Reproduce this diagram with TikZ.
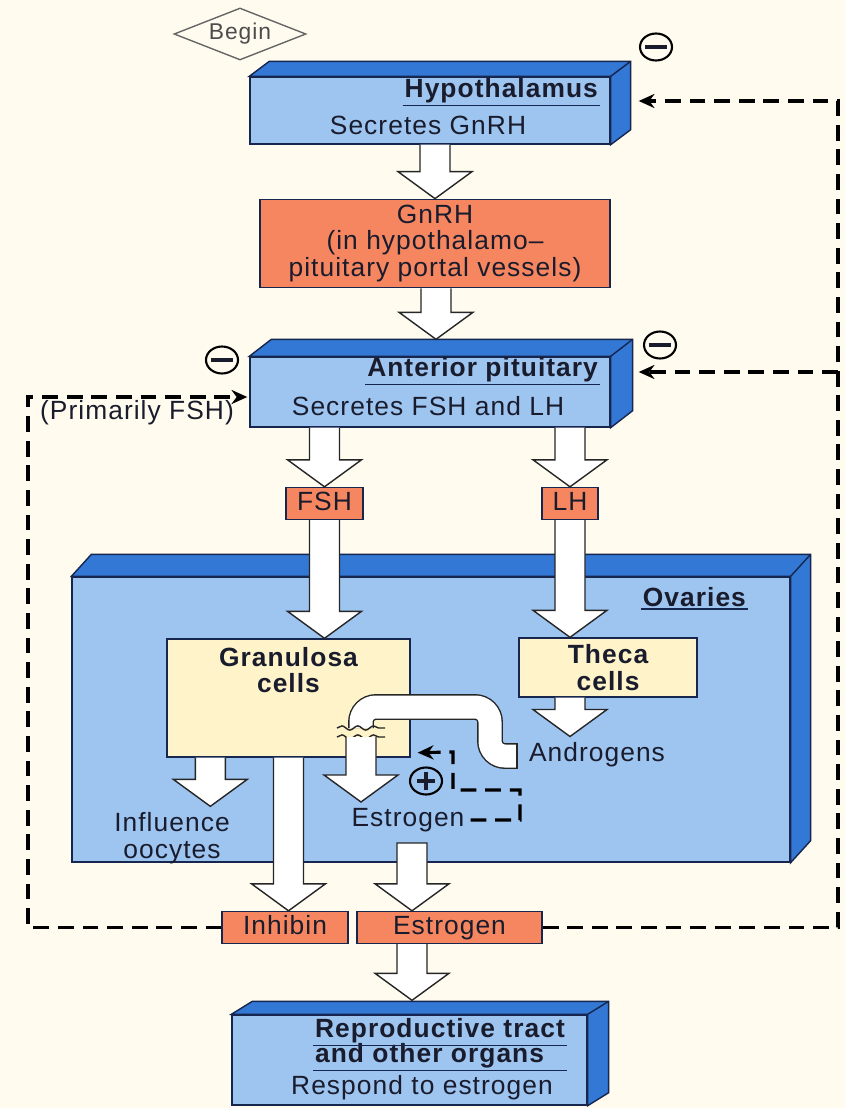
\documentclass[tikz,border=0pt]{standalone}
\usepackage{fontspec}
\setmainfont{Liberation Sans}[LetterSpace=4]
\usetikzlibrary{arrows.meta,positioning,shapes.geometric,calc,decorations.pathmorphing}

\definecolor{paper}{RGB}{255,252,239}
\definecolor{frontblue}{RGB}{158,196,240}
\definecolor{sideblue}{RGB}{50,120,212}
\definecolor{edgeblue}{RGB}{22,38,78}
\definecolor{hormone}{RGB}{246,134,96}
\definecolor{cellfill}{RGB}{255,243,201}
\definecolor{ink}{RGB}{25,28,45}

% top and right faces of a 3D slab (node, depth dx, depth dy)
\newcommand{\slabsides}[3]{%
  \filldraw[slabside] (#1.north west) -- ++(#2,#3) -- ($(#1.north east)+(#2,#3)$)
    -- ($(#1.south east)+(#2,#3)$) -- (#1.south east) -- (#1.north east) -- cycle;
  \draw[slabside] (#1.north east) -- ++(#2,#3);
}
% hollow block arrow from a start (only its y) down to a tip
\newcommand{\hollowarrow}[3][]{%
  \draw[blockarr] let \p1=#2, \p2=#3 in
    (\x2-0.3cm,\y1) -- (\x2-0.3cm,\y2+0.54cm) -- (\x2-0.74cm,\y2+0.54cm) -- (\x2,\y2)
    -- (\x2+0.74cm,\y2+0.54cm) -- (\x2+0.3cm,\y2+0.54cm) -- (\x2+0.3cm,\y1) #1;
}

\begin{document}
\begin{tikzpicture}[
  x=0.02cm, y=-0.02cm,
  every node/.style={text=ink},
  font=\fontsize{15}{15}\selectfont,
  slab/.style={draw=edgeblue, thick, fill=frontblue, inner sep=0pt},
  slabside/.style={draw=edgeblue, thick, fill=sideblue},
  hdr/.style={font=\fontsize{15}{15}\selectfont\bfseries, inner sep=1pt},
  uline/.style={draw=edgeblue, line width=1pt},
  hormonebox/.style={draw=edgeblue, thick, fill=hormone, minimum height=0.64cm, inner sep=2pt,
                     text height=11pt, text depth=2.5pt},
  cellbox/.style={draw=edgeblue, thick, fill=cellfill, inner sep=0pt},
  blockarr/.style={draw=black!85, thick, fill=white, line join=miter},
  loopline/.style={line width=2.2pt, dash pattern=on 9pt off 5pt, -{Stealth[length=9pt,width=8pt]}},
  sign/.style={draw=black, line width=1.2pt, ellipse, minimum width=0.64cm, minimum height=0.54cm, inner sep=0pt},
  tube/.style={draw=black!85, line width=0.8pt, double=white, double distance=0.46cm, rounded corners=0.3cm}
]

\fill[paper] (0,0) rectangle (845,1108);
\useasboundingbox (0,0) rectangle (845,1108);

% === Brain ===
\node[diamond, draw=black!60, thick, aspect=2.5, minimum width=2.64cm, minimum height=1.04cm,
      inner sep=0pt, font=\fontsize{13}{13}\selectfont, text=black!70] (begin) at (240,34) {Begin};

\node[slab, minimum width=7.2cm, minimum height=1.34cm] (hyp) at (430,110.5) {};
\slabsides{hyp}{20}{-15}
\node[hdr, anchor=east] (hyphdr) at (600,91) {Hypothalamus};
\draw[uline] (hyphdr.south west) -- (hyphdr.south east);
\node (hyptxt) at (428,125) {Secretes GnRH};

\node[draw=edgeblue, thick, fill=hormone, minimum width=7cm, minimum height=1.68cm, align=center] (gnrh) at (435,243.5)
  {GnRH\\(in hypothalamo--\\pituitary portal vessels)};

\node[slab, minimum width=7.2cm, minimum height=1.4cm] (ap) at (430,392) {};
\slabsides{ap}{22}{-17}
\node[hdr, anchor=east] (aphdr) at (600,370) {Anterior pituitary};
\draw[uline] (aphdr.south west) -- (aphdr.south east);
\node (aptxt) at (428,406) {Secretes FSH and LH};
\coordinate (aptop) at ($(ap.north)+(6,-17)$);

\node[hormonebox, minimum width=1.54cm] (fsh) at (324.5,503.5) {FSH};
\node[hormonebox, minimum width=1.12cm] (lh) at (570,503.5) {LH};

\hollowarrow{(hyp.south)}{(gnrh.north)}
\hollowarrow{(gnrh.south)}{(aptop)}
\hollowarrow{(ap.south)}{(fsh.north)}
\hollowarrow{(ap.south)}{(lh.north)}

% === Ovaries ===
\node[slab, minimum width=14.36cm, minimum height=5.7cm] (ova) at (431,719.5) {};
\slabsides{ova}{20}{-22}
\node[hdr, anchor=east] (ovahdr) at (748,597) {Ovaries};
\draw[uline] (ovahdr.south west) -- (ovahdr.south east);

\node[cellbox, minimum width=4.86cm, minimum height=2.36cm] (gran) at (288.5,698) {};
\node[hdr, align=center, anchor=north] (grantxt) at (288.5,645) {Granulosa\\cells};
\node[cellbox, minimum width=3.56cm, minimum height=1.18cm, hdr, align=center] (theca) at (608,667.5) {Theca\\cells};

\node (andr) at (597,755) {Androgens};
\node[align=center] (infl) at (172,838) {Influence\\oocytes};
\node (estrtxt) at (408,820) {Estrogen};

\hollowarrow{(fsh.south)}{(fsh.south |- gran.north)}
\hollowarrow{(lh.south)}{(lh.south |- theca.north)}
\hollowarrow{(theca.south)}{(lh.south |- andr.north)}

% androgens carried into the granulosa cells
\draw[tube] (361,728) -- (361,707) -- (490,707) -- (490,756) -- (517,756);
\draw[black!85, thick] (517,743) -- (517,769);
\foreach \y in {728,737} {
  \draw[black!85, thick, decorate, decoration={snake, amplitude=1.2pt, segment length=9pt}] (337,\y) -- (385,\y);
}
\coordinate (brk) at (361,737);
\hollowarrow{(brk)}{(brk |- estrtxt.north)}

% local positive feedback
\node[sign] (sgplus) at (426,781) {\rule[-1pt]{10pt}{2pt}\llap{\rule[-5pt]{2pt}{10pt}\hspace{4pt}}};
\draw[loopline, line width=1.8pt] (estrtxt.east) -- (520,820) -- (520,790) -- (453,790) -- (453,752)
  -- ($(gran.south east)+(7,-5)$);

% === Secreted hormones ===
\node[hormonebox, minimum width=2.52cm] (inhib) at (285,927.5) {Inhibin};
\node[hormonebox, minimum width=3.7cm] (estr) at (449.5,927.5) {Estrogen};
\coordinate (estrsrc) at ($(estrtxt.south)+(4,5)$);
\coordinate (oosrc) at ($(gran.south west)+(44,0)$);

\hollowarrow{(oosrc)}{(oosrc |- infl.north)}
\hollowarrow{(gran.south)}{(gran.south |- inhib.north)}
\hollowarrow[-- cycle]{(estrsrc)}{(estrsrc |- estr.north)}

% === Target organs ===
\node[slab, minimum width=7.1cm, minimum height=1.8cm] (repro) at (409.5,1060) {};
\slabsides{repro}{21}{-13}
\node[hdr, anchor=west] (rephdra) at (313,1031) {Reproductive tract};
\node[hdr, anchor=west] (rephdrb) at (313,1056) {and other organs};
\draw[uline] (rephdra.south west) -- (rephdra.south east);
\draw[uline] (rephdrb.south west) -- (rephdrb.south west -| rephdra.south east);
\node (reptxt) at (422,1088) {Respond to estrogen};
\coordinate (reptop) at ($(repro.north)+(0,-14)$);
\hollowarrow{(estrsrc |- estr.south)}{(estrsrc |- reptop)}

% === Negative feedback ===
\coordinate (hypin) at ($(hyp.east)+(28,-9.5)$);
\coordinate (apin) at ($(ap.east)+(28,-20)$);
\coordinate (apleft) at ($(ap.west)+(-2,5)$);
\draw[loopline] (estr.east) -| (838,101) -- (hypin);
\draw[loopline] (838,372) -- (apin);
\draw[loopline] (inhib.west) -| (28,397) -- (apleft);

\node[sign] (sghyp) at (656,47) {\rule[-1pt]{12pt}{2.2pt}};
\node[sign] (sgapr) at (660,345) {\rule[-1pt]{12pt}{2.2pt}};
\node[sign] (sgapl) at (222,360) {\rule[-1pt]{12pt}{2.2pt}};
\node (prim) at (137,413) {(Primarily FSH)};

\end{tikzpicture}
\end{document}
